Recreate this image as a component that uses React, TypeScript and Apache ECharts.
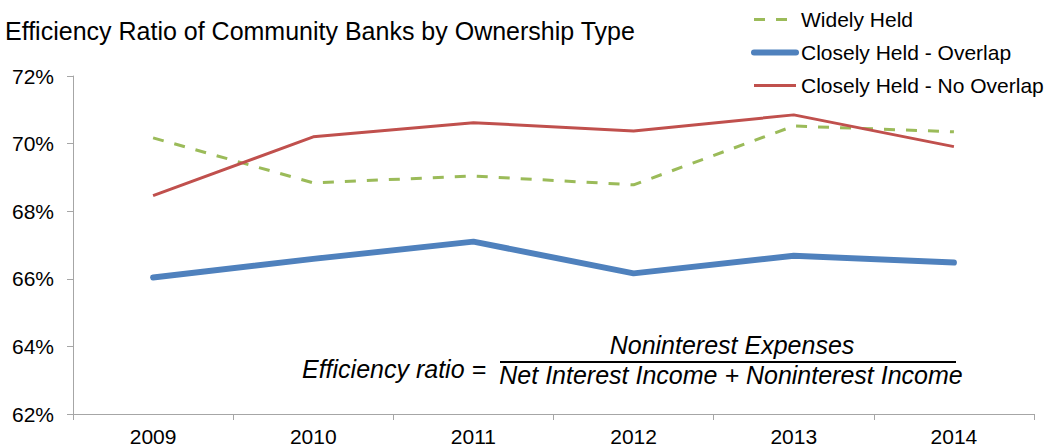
import React, { useEffect, useRef } from "react";
import * as echarts from "echarts";

const years = ["2009", "2010", "2011", "2012", "2013", "2014"];
const widelyHeld = [70.17, 68.84, 69.04, 68.78, 70.52, 70.35];
const closelyOverlap = [66.04, 66.59, 67.1, 66.16, 66.68, 66.48];
const closelyNoOverlap = [68.46, 70.2, 70.62, 70.37, 70.85, 69.91];

const FONT = "'Liberation Sans', Arial, sans-serif";

export default function App() {
  const ref = useRef<HTMLDivElement>(null);
  useEffect(() => {
    const chart = echarts.init(ref.current!, null, { renderer: "svg" });
    chart.setOption({
      animation: false,
      backgroundColor: "#ffffff",
      textStyle: { fontFamily: FONT },
      title: {
        text: "Efficiency Ratio of Community Banks by Ownership Type",
        left: 0,
        top: 13,
        textStyle: { fontFamily: FONT, fontSize: 25, fontWeight: "normal", color: "#000" },
      },
      legend: {
        orient: "vertical",
        left: 746,
        top: 4,
        itemWidth: 42,
        itemHeight: 14,
        itemGap: 12,
        itemStyle: { opacity: 0 },
        textStyle: { fontFamily: FONT, fontSize: 21, color: "#000" },
        data: [
          { name: "Widely Held", lineStyle: { width: 3 } },
          { name: "Closely Held - Overlap", lineStyle: { width: 6 } },
          { name: "Closely Held - No Overlap", lineStyle: { width: 3 } },
        ],
      },
      grid: { left: 73, right: 16, top: 76, bottom: 34, containLabel: false },
      xAxis: {
        type: "category",
        data: years,
        boundaryGap: true,
        axisLine: { lineStyle: { color: "#a6a6a6", width: 1 } },
        axisTick: { show: true, length: 6, lineStyle: { color: "#a6a6a6" } },
        axisLabel: { fontFamily: FONT, fontSize: 21, color: "#000", margin: 12 },
      },
      yAxis: {
        type: "value",
        min: 62,
        max: 72,
        interval: 2,
        axisLine: { show: true, lineStyle: { color: "#a6a6a6", width: 1 } },
        axisTick: { show: true, length: 6, lineStyle: { color: "#a6a6a6" } },
        splitLine: { show: false },
        axisLabel: { fontFamily: FONT, fontSize: 21, color: "#000", margin: 19, formatter: "{value}%" },
      },
      series: [
        {
          name: "Widely Held",
          type: "line",
          data: widelyHeld,
          symbol: "none",
          lineStyle: { color: "#9bbb59", width: 3, type: [11, 11] },
          itemStyle: { color: "#9bbb59" },
        },
        {
          name: "Closely Held - Overlap",
          type: "line",
          data: closelyOverlap,
          symbol: "none",
          lineStyle: { color: "#4f81bd", width: 6, cap: "round" },
          itemStyle: { color: "#4f81bd" },
        },
        {
          name: "Closely Held - No Overlap",
          type: "line",
          data: closelyNoOverlap,
          symbol: "none",
          lineStyle: { color: "#c0504d", width: 3 },
          itemStyle: { color: "#c0504d" },
        },
      ],
      graphic: [
        {
          type: "text",
          x: 302,
          y: 356,
          style: {
            text: "Efficiency ratio =",
            font: `italic 25px ${FONT}`,
            fill: "#000",
          },
        },
        {
          type: "text",
          x: 732,
          y: 332,
          style: {
            text: "Noninterest Expenses",
            font: `italic 25px ${FONT}`,
            fill: "#000",
            textAlign: "center",
          },
        },
        {
          type: "line",
          shape: { x1: 500, y1: 362, x2: 956, y2: 362 },
          style: { stroke: "#000", lineWidth: 2 },
        },
        {
          type: "text",
          x: 731,
          y: 362,
          style: {
            text: "Net Interest Income + Noninterest Income",
            font: `italic 25px ${FONT}`,
            fill: "#000",
            textAlign: "center",
          },
        },
      ],
    });
    return () => chart.dispose();
  }, []);
  return <div ref={ref} style={{ width: 1050, height: 448, position: "absolute", left: 0, top: 0 }} />;
}
